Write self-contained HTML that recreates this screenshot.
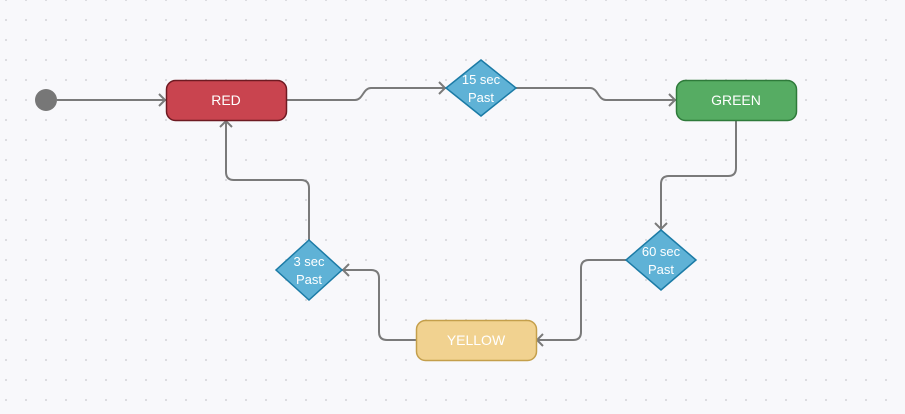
<!DOCTYPE html>
<html><head><meta charset="utf-8"><style>
html,body{margin:0;padding:0;width:905px;height:414px;overflow:hidden;background:#f8f8fb;}
svg{display:block}
text{font-family:"Liberation Sans",sans-serif;fill:#fff;text-anchor:middle}
</style></head><body>
<svg width="905" height="414" viewBox="0 0 905 414">
<defs>
<pattern id="dots" x="5" y="-1" width="20" height="20" patternUnits="userSpaceOnUse">
<rect x="0" y="0" width="2" height="2" fill="#dcdce0"/>
</pattern>
</defs>
<rect width="905" height="414" fill="#f8f8fb"/>
<rect width="905" height="414" fill="url(#dots)"/>
<g fill="none" stroke="#7a7a7a" stroke-width="2">
<path d="M57 100 H166"/>
<path d="M159 94 L165 100 L159 106"/>
<path d="M287 100 H355 C363 100 363 88 371 88 H446"/>
<path d="M439 82 L445 88 L439 94"/>
<path d="M516 88 H590 C598 88 598 100 606 100 H676"/>
<path d="M669 94 L675 100 L669 106"/>
<path d="M736 120 V168 Q736 176 728 176 H669 Q661 176 661 184 V230"/>
<path d="M655 223 L661 229 L667 223"/>
<path d="M626 260 H589 Q581 260 581 268 V332 Q581 340 573 340 H536"/>
<path d="M543 334 L537 340 L543 346"/>
<path d="M416 340 H387 Q379 340 379 332 V278 Q379 270 371 270 H342"/>
<path d="M349 264 L343 270 L349 276"/>
<path d="M309 240 V188 Q309 180 301 180 H234 Q226 180 226 172 V120"/>
<path d="M220 127 L226 121 L232 127"/>
</g>
<circle cx="46" cy="100" r="11" fill="#777"/>
<rect x="166.5" y="80.5" width="120" height="40" rx="9" fill="#c9444f" stroke="#6e1a22" stroke-width="1.5"/>
<text x="226" y="105" font-size="14">RED</text>
<rect x="676.5" y="80.5" width="120" height="40" rx="9" fill="#56ac63" stroke="#2e7a3a" stroke-width="1.5"/>
<text x="736" y="105" font-size="14">GREEN</text>
<rect x="416.5" y="320.5" width="120" height="40" rx="9" fill="#f1d290" stroke="#c49f4b" stroke-width="1.5"/>
<text x="476" y="345" font-size="14">YELLOW</text>
<polygon points="481,60 516,88 481,116 446,88" fill="#5fb2d6" stroke="#1b7ba6" stroke-width="1.5"/>
<text x="481" y="84" font-size="13">15 sec</text><text x="481" y="102" font-size="13">Past</text>
<polygon points="661,230 696,260 661,290 626,260" fill="#5fb2d6" stroke="#1b7ba6" stroke-width="1.5"/>
<text x="661" y="256" font-size="13">60 sec</text><text x="661" y="274" font-size="13">Past</text>
<polygon points="309,240 342,270 309,300 276,270" fill="#5fb2d6" stroke="#1b7ba6" stroke-width="1.5"/>
<text x="309" y="266" font-size="13">3 sec</text><text x="309" y="284" font-size="13">Past</text>
</svg>
</body></html>
